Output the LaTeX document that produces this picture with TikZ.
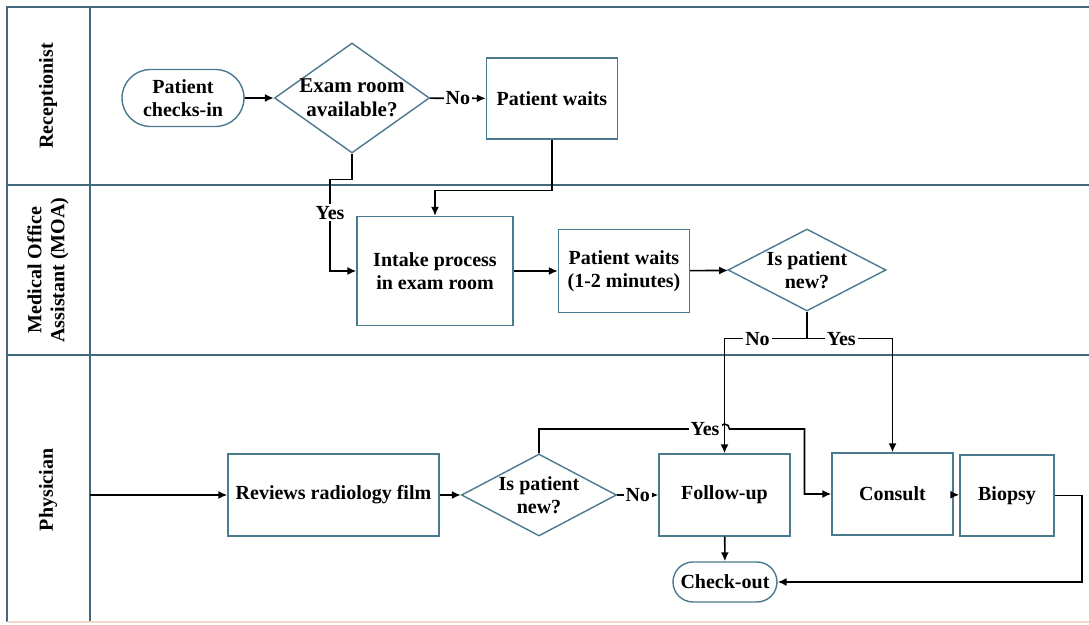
\documentclass[tikz,border=0pt]{standalone}
\usepackage{fontspec}
\setmainfont{Liberation Serif}
\usetikzlibrary{arrows.meta,shapes.geometric,shapes.misc}
\definecolor{edgeblue}{RGB}{74,122,142}
\definecolor{lanegray}{RGB}{66,104,124}
\definecolor{lanefaint}{RGB}{240,215,200}
\tikzset{
  txt/.style={font=\fontsize{10}{11.5}\selectfont\bfseries,align=center},
  box/.style={txt,draw=edgeblue,line width=0.7pt,fill=white,inner sep=2pt},
  term/.style={box,rounded rectangle},
  dia/.style={draw=edgeblue,line width=0.7pt,fill=white,diamond,inner sep=0pt},
  flow/.style={line width=0.8pt,-{Latex[length=4.5pt,width=4pt]}},
  lbl/.style={txt,fill=white,inner sep=1pt},
  lane/.style={draw=lanegray,line width=0.7pt}
}
\begin{document}
\begin{tikzpicture}[x=0.5pt,y=-0.5pt]
\useasboundingbox[fill=white] (0,0) rectangle (1089,625);
\draw[lane] (1089,7)--(7,7)--(7,622);
\draw[lane] (90,7)--(90,622);
\draw[lane] (7,185)--(1089,185);
\draw[lane] (7,355)--(1089,355);
\draw[draw=lanefaint,line width=0.7pt] (7,622)--(1089,622);
\node[txt,rotate=90] (recLane) at (48,96) {Receptionist};
\node[txt,rotate=90] (moaLane) at (48,270) {Medical Office\\Assistant (MOA)};
\node[txt,rotate=90] (phyLane) at (48,490) {Physician};

\node[term,minimum width=65pt,minimum height=28.5pt] (checkin) at (183,98) {Patient\\checks-in};
\node[dia,minimum width=77.5pt,minimum height=55pt,label={[txt,font=\fontsize{10.5}{12}\selectfont\bfseries]center:{Exam room\\available?}}] (exam) at (352,98) {};
\node[box,minimum width=65.5pt,minimum height=40.5pt] (waitA) at (552,98.5) {Patient waits};
\node[box,minimum width=78pt,minimum height=54.5pt] (intake) at (435,271) {Intake process\\in exam room};
\node[box,minimum width=65.5pt,minimum height=41.5pt] (waitB) at (624,271) {Patient waits\\(1-2 minutes)};
\node[dia,minimum width=79pt,minimum height=41pt,label={[txt]center:{Is patient\\new?}}] (newA) at (807,270) {};
\coordinate (entry) at (90,495);
\node[box,minimum width=105.5pt,minimum height=41pt] (reviews) at (333.5,495) {Reviews radiology film};
\node[dia,minimum width=77.5pt,minimum height=41pt,label={[txt]center:{Is patient\\new?}}] (newB) at (539,495) {};
\node[box,minimum width=65.5pt,minimum height=41pt] (follow) at (724.5,495) {Follow-up};
\node[box,minimum width=60.5pt,minimum height=41pt] (consult) at (892.5,494) {Consult};
\node[box,minimum width=47pt,minimum height=40.5pt] (biopsy) at (1007,495.5) {Biopsy};
\node[term,minimum width=56pt,minimum height=20pt] (checkout) at (725,582) {Check-out};

\draw[flow] (checkin) -- (exam);
\draw[flow] (exam) -- node[lbl]{No} (waitA);
\draw[flow] (waitA.south) -- ++(0,51) -| (intake.north);
\draw[flow] (exam.south) -- ++(0,26) -- ++(-22,0) |- node[lbl,pos=0.18]{Yes} (intake.west);
\draw[flow] (intake) -- (waitB);
\draw[flow] (waitB) -- (newA);
\draw[line width=0.8pt] (newA.south) -- ++(0,27) coordinate (split);
\draw[flow] (split) -| node[lbl,pos=0.3]{No} (follow.north);
\draw[flow] (split) -| node[lbl,pos=0.2]{Yes} (consult.north);
\draw[flow] (entry) -- (reviews);
\draw[flow] (reviews) -- (newB);
\draw[flow] (newB) -- node[lbl]{No} (follow);
\path (follow.north |- 0,429) coordinate (jump);
\draw[flow] (newB.north) |- node[lbl,pos=0.96]{Yes} ([xshift=-2.5pt]jump)
  arc[start angle=180,end angle=0,radius=2.5pt] -- ++(75,0) |- (consult.west);
\draw[flow] (follow) -- (checkout);
\draw[flow] (consult) -- (biopsy);
\draw[flow] (biopsy.east) -- ++(27,0) |- (checkout.east);
\end{tikzpicture}
\end{document}
